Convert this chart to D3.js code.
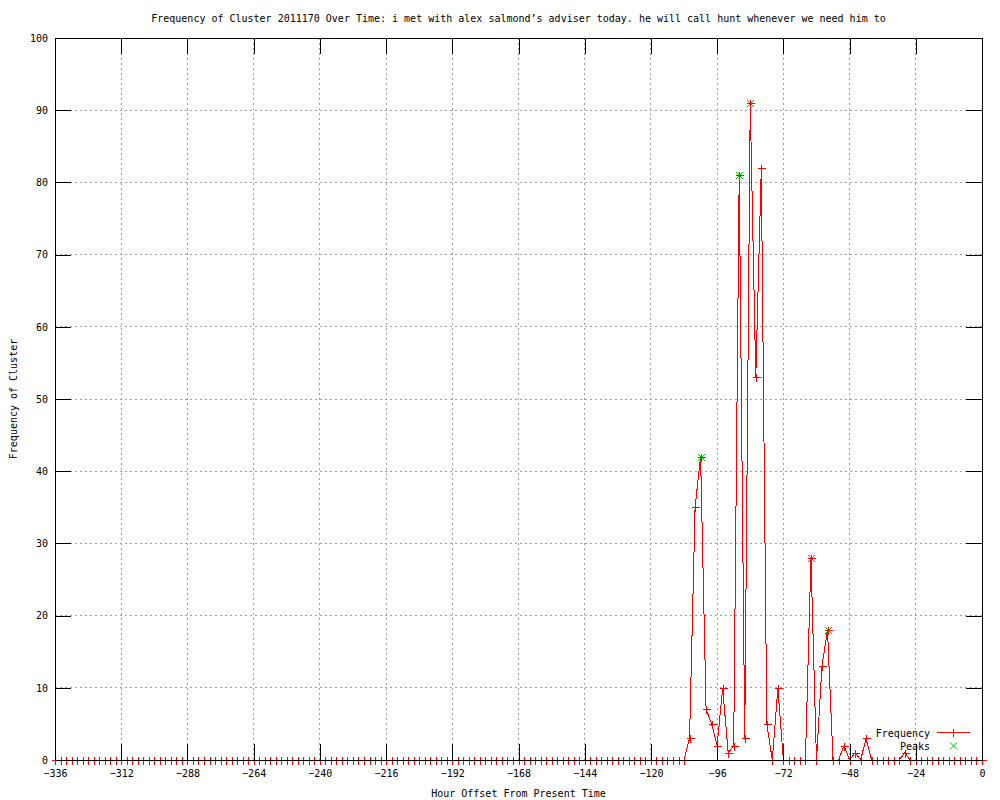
<!DOCTYPE html>
<html>
<head>
<meta charset="utf-8">
<script src="https://cdn.jsdelivr.net/npm/d3@7"></script>
<style>
  body { margin: 0; background: #fff; }
  text { font-family: "DejaVu Sans Mono", monospace; font-size: 10px; fill: #000; }
</style>
</head>
<body>
<svg id="chart" width="1000" height="800"></svg>
<script>
// hour offsets, one sample every 2 hours
const hours = [
  -336, -334, -332, -330, -328, -326, -324, -322, -320, -318, -316, -314,
  -312, -310, -308, -306, -304, -302, -300, -298, -296, -294, -292, -290,
  -288, -286, -284, -282, -280, -278, -276, -274, -272, -270, -268, -266,
  -264, -262, -260, -258, -256, -254, -252, -250, -248, -246, -244, -242,
  -240, -238, -236, -234, -232, -230, -228, -226, -224, -222, -220, -218,
  -216, -214, -212, -210, -208, -206, -204, -202, -200, -198, -196, -194,
  -192, -190, -188, -186, -184, -182, -180, -178, -176, -174, -172, -170,
  -168, -166, -164, -162, -160, -158, -156, -154, -152, -150, -148, -146,
  -144, -142, -140, -138, -136, -134, -132, -130, -128, -126, -124, -122,
  -120, -118, -116, -114, -112, -110, -108, -106, -104, -102, -100, -98,
  -96, -94, -92, -90, -88, -86, -84, -82, -80, -78, -76, -74,
  -72, -70, -68, -66, -64, -62, -60, -58, -56, -54, -52, -50,
  -48, -46, -44, -42, -40, -38, -36, -34, -32, -30, -28, -26,
  -24, -22, -20, -18, -16, -14, -12, -10, -8, -6, -4, -2,
  0
];
const frequency = [
  0, 0, 0, 0, 0, 0, 0, 0, 0, 0, 0, 0,
  0, 0, 0, 0, 0, 0, 0, 0, 0, 0, 0, 0,
  0, 0, 0, 0, 0, 0, 0, 0, 0, 0, 0, 0,
  0, 0, 0, 0, 0, 0, 0, 0, 0, 0, 0, 0,
  0, 0, 0, 0, 0, 0, 0, 0, 0, 0, 0, 0,
  0, 0, 0, 0, 0, 0, 0, 0, 0, 0, 0, 0,
  0, 0, 0, 0, 0, 0, 0, 0, 0, 0, 0, 0,
  0, 0, 0, 0, 0, 0, 0, 0, 0, 0, 0, 0,
  0, 0, 0, 0, 0, 0, 0, 0, 0, 0, 0, 0,
  0, 0, 0, 0, 0, 0, 0, 3, 35, 42, 7, 5,
  2, 10, 1, 2, 81, 3, 91, 53, 82, 5, 0, 10,
  0, 0, 0, 0, 0, 28, 0, 13, 18, 0, 0, 2,
  0, 1, 0, 3, 0, 0, 0, 0, 0, 0, 1, 0,
  0, 0, 0, 0, 0, 0, 0, 0, 0, 0, 0, 0,
  0
];
const peakHours = [-102, -88, -84, -62, -56];
const peakValues = [42, 81, 91, 28, 18];

const xTicks = [-336, -312, -288, -264, -240, -216, -192, -168, -144, -120, -96, -72, -48, -24, 0];
const yTicks = [0, 10, 20, 30, 40, 50, 60, 70, 80, 90, 100];

const titleText = "Frequency of Cluster 2011170 Over Time: i met with alex salmond\u2019s adviser today. he will call hunt whenever we need him to";

const plotL = 55, plotR = 982, plotT = 38, plotB = 760;
const tick = 16;

const svg = d3.select("#chart");
svg.append("rect").attr("width", 1000).attr("height", 800).attr("fill", "#fff");

const x = d3.scaleLinear().domain([-336, 0]).range([plotL, plotR]);
const y = d3.scaleLinear().domain([0, 100]).range([plotB, plotT]);

// grid
const grid = svg.append("g").attr("shape-rendering", "crispEdges");
grid.selectAll("line.gx")
    .data(xTicks.slice(1, -1))
  .enter().append("line")
    .attr("class", "gx")
    .attr("x1", d => x(d)).attr("x2", d => x(d))
    .attr("y1", plotT).attr("y2", plotB);
grid.selectAll("line.gy")
    .data(yTicks.slice(1, -1))
  .enter().append("line")
    .attr("class", "gy")
    .attr("x1", plotL).attr("x2", plotR)
    .attr("y1", d => y(d)).attr("y2", d => y(d));
grid.selectAll("line")
    .attr("stroke", "#a0a0a0")
    .attr("stroke-width", 1)
    .attr("stroke-dasharray", "2,3");

const pts = hours.map((h, i) => [h, frequency[i]]);

// frequency line
const line = d3.line().x(d => x(d[0])).y(d => y(d[1]));
svg.append("path")
    .datum(pts)
    .attr("d", line)
    .attr("fill", "none")
    .attr("stroke", "#ff0000")
    .attr("stroke-width", 1)
    .attr("shape-rendering", "crispEdges");

// peaks (x markers)
const peaks = svg.append("g").attr("stroke", "#00c000");
peaks.selectAll("path")
    .data(peakHours.map((h, i) => [h, peakValues[i]]))
  .enter().append("path")
    .attr("d", d => {
      const cx = Math.round(x(d[0])) + 0.5, cy = Math.round(y(d[1])) + 0.5;
      return `M${cx - 3.5},${cy - 3.5}L${cx + 3.5},${cy + 3.5}M${cx - 3.5},${cy + 3.5}L${cx + 3.5},${cy - 3.5}`;
    });

// + markers
const plus = svg.append("g").attr("stroke", "#ff0000").attr("shape-rendering", "crispEdges");
plus.selectAll("path")
    .data(pts)
  .enter().append("path")
    .attr("d", d => {
      const cx = Math.round(x(d[0])) + 0.5, cy = Math.round(y(d[1])) + 0.5;
      return `M${cx - 4},${cy}H${cx + 4}M${cx},${cy - 4}V${cy + 4}`;
    });

// axes (inward ticks, mirrored)
function styleAxis(g) {
  g.select(".domain").remove();
  g.selectAll(".tick line").attr("stroke", "#000").attr("shape-rendering", "crispEdges");
  g.selectAll("text").attr("font-family", "DejaVu Sans Mono, monospace").attr("font-size", 10).attr("fill", "#000");
}
svg.append("g")
    .attr("transform", `translate(0,${plotB})`)
    .call(d3.axisBottom(x).tickValues(xTicks).tickSizeInner(-tick).tickSizeOuter(0).tickPadding(10))
    .call(styleAxis);
svg.append("g")
    .attr("transform", `translate(0,${plotT})`)
    .call(d3.axisTop(x).tickValues(xTicks).tickSizeInner(-tick).tickSizeOuter(0).tickFormat(""))
    .call(styleAxis);
svg.append("g")
    .attr("transform", `translate(${plotL},0)`)
    .call(d3.axisLeft(y).tickValues(yTicks).tickSizeInner(-tick).tickSizeOuter(0).tickPadding(7))
    .call(styleAxis);
svg.append("g")
    .attr("transform", `translate(${plotR},0)`)
    .call(d3.axisRight(y).tickValues(yTicks).tickSizeInner(-tick).tickSizeOuter(0).tickFormat(""))
    .call(styleAxis);

// border
svg.append("rect")
    .attr("x", plotL).attr("y", plotT)
    .attr("width", plotR - plotL).attr("height", plotB - plotT)
    .attr("fill", "none").attr("stroke", "#000")
    .attr("shape-rendering", "crispEdges");

// titles
svg.append("text")
    .attr("x", (plotL + plotR) / 2).attr("y", 22)
    .attr("text-anchor", "middle")
    .text(titleText);
svg.append("text")
    .attr("x", (plotL + plotR) / 2).attr("y", 797)
    .attr("text-anchor", "middle")
    .text("Hour Offset From Present Time");
svg.append("text")
    .attr("transform", `translate(17,${(plotT + plotB) / 2}) rotate(-90)`)
    .attr("text-anchor", "middle")
    .text("Frequency of Cluster");

// legend
const key = svg.append("g");
key.append("text").attr("x", 930).attr("y", 737).attr("text-anchor", "end").text("Frequency");
key.append("line")
    .attr("x1", 937).attr("x2", 970).attr("y1", 732.5).attr("y2", 732.5)
    .attr("stroke", "#ff0000").attr("shape-rendering", "crispEdges");
key.append("path")
    .attr("d", "M953.5,728.5V736.5")
    .attr("stroke", "#ff0000").attr("shape-rendering", "crispEdges");
key.append("text").attr("x", 930).attr("y", 750).attr("text-anchor", "end").text("Peaks");
key.append("path")
    .attr("d", "M950,742.5L957,749.5M950,749.5L957,742.5")
    .attr("stroke", "#00c000");
</script>
</body>
</html>
